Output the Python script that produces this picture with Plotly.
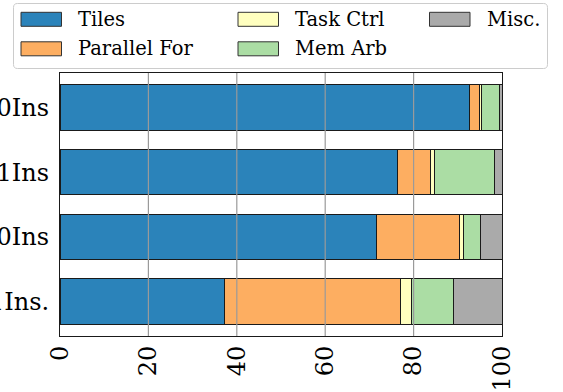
import plotly.graph_objects as go

# Runtime breakdown (% of total) per configuration, listed bottom to top
configs = ["Par 1Ins.", "Par 0Ins", "Seq V1Ins", "Seq 0Ins"]
components = ["Tiles", "Parallel For", "Task Ctrl", "Mem Arb", "Misc."]
tiles = [37.2, 71.6, 76.3, 92.6]
parallel_for = [39.9, 18.8, 7.5, 2.3]
task_ctrl = [2.5, 0.9, 0.9, 0.4]
mem_arb = [9.5, 3.9, 13.5, 4.1]
misc = [10.9, 4.8, 1.8, 0.6]
x_ticks = [0, 20, 40, 60, 80, 100]

series = [tiles, parallel_for, task_ctrl, mem_arb, misc]
colors = ["#2b83ba", "#fdae61", "#ffffbf", "#abdda4", "#aaaaaa"]

W, H = 563, 392
ML, MR, MT, MB = 60, 61, 73, 56
PW, PH = W - ML - MR, H - MT - MB
FONT = "DejaVu Serif, Liberation Serif, serif"


def px_x(x):
    return (x - ML) / PW


def px_y(y):
    return (H - MB - y) / PH


fig = go.Figure()
for name, vals, col in zip(components, series, colors):
    fig.add_trace(go.Bar(
        y=configs, x=vals, name=name, orientation="h", width=0.7,
        marker=dict(color=col, line=dict(color="#1a1a1a", width=1)),
        showlegend=False,
    ))

shapes = []
# vertical grid drawn over the bars
for t in x_ticks[1:-1]:
    shapes.append(dict(type="line", xref="x", yref="paper", x0=t, x1=t, y0=0, y1=1,
                       line=dict(color="#9a9a9a", width=1.2), layer="above"))

# legend frame with rounded corners
lx0, lx1, ly0, ly1, r = 13.5, 547.5, 3.5, 68.5, 4
def P(x, y):
    return f"{px_x(x):.5f},{px_y(y):.5f}"
path = (f"M {P(lx0 + r, ly0)} L {P(lx1 - r, ly0)} Q {P(lx1, ly0)} {P(lx1, ly0 + r)} "
        f"L {P(lx1, ly1 - r)} Q {P(lx1, ly1)} {P(lx1 - r, ly1)} "
        f"L {P(lx0 + r, ly1)} Q {P(lx0, ly1)} {P(lx0, ly1 - r)} "
        f"L {P(lx0, ly0 + r)} Q {P(lx0, ly0)} {P(lx0 + r, ly0)} Z")
shapes.append(dict(type="path", xref="paper", yref="paper", path=path,
                   fillcolor="rgba(255,255,255,0.85)", line=dict(color="#cccccc", width=1),
                   layer="above"))

annotations = []
col_x = [21, 238, 429.5]
row_y = [19.3, 48.8]
for i, (name, col) in enumerate(zip(components, colors)):
    cx = col_x[i // 2]
    cy = row_y[i % 2]
    shapes.append(dict(type="rect", xref="paper", yref="paper",
                       x0=px_x(cx), x1=px_x(cx + 40.5), y0=px_y(cy - 7), y1=px_y(cy + 7),
                       fillcolor=col, line=dict(color="#333333", width=1), layer="above"))
    annotations.append(dict(xref="paper", yref="paper", x=px_x(cx + 55), y=px_y(cy),
                            text=name, showarrow=False, xanchor="left", yanchor="middle",
                            font=dict(family=FONT, size=19.5, color="black")))

fig.update_layout(
    width=W, height=H,
    margin=dict(l=ML, r=MR, t=MT, b=MB, autoexpand=False),
    paper_bgcolor="white", plot_bgcolor="white",
    barmode="stack", bargap=0.3,
    shapes=shapes, annotations=annotations,
    font=dict(family=FONT, color="black"),
)
fig.update_xaxes(
    range=[0, 100], tickvals=x_ticks, tickangle=-90,
    tickfont=dict(family=FONT, size=24, color="black"),
    showgrid=False, zeroline=False, ticks="", ticklabelstandoff=-1,
    showline=True, linecolor="#1a1a1a", linewidth=1.2, mirror=True,
    layer="above traces", automargin=False,
)
fig.update_yaxes(
    type="category", categoryorder="array", categoryarray=configs,
    range=[-0.535, 3.535],
    tickfont=dict(family=FONT, size=24, color="black"),
    showgrid=False, zeroline=False, ticks="", ticklabelstandoff=5,
    showline=True, linecolor="#1a1a1a", linewidth=1.2, mirror=True,
    layer="above traces", automargin=False,
)

fig.write_html("out.html")
